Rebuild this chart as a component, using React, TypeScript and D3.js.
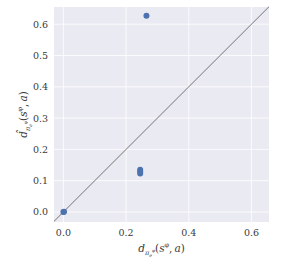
import React from "react";
import * as d3 from "d3";

const xValues = [0.0, 0.002, 0.245, 0.245, 0.245, 0.265];
const yValues = [0.0, 0.001, 0.135, 0.129, 0.123, 0.627];
const tickValues = [0.0, 0.2, 0.4, 0.6];
const yTickValues = [0.0, 0.1, 0.2, 0.3, 0.4, 0.5, 0.6];

const W = 297, H = 264;
const left = 54, right = 269, top = 7, bottom = 222;

function MathLabel({ hat }: { hat: boolean }) {
  return (
    <>
      <tspan>{hat ? "d\u0302" : "d"}</tspan>
      <tspan fontSize={6.5} dy={3}>π</tspan>
      <tspan fontSize={4.5} dy={2}>e</tspan>
      <tspan fontSize={4.5} dy={-5}>φ</tspan>
      <tspan fontSize={10.5} dy={0} fontStyle="normal">(</tspan>
      <tspan>s</tspan>
      <tspan fontSize={6.5} dy={-5} fontStyle="normal">φ</tspan>
      <tspan fontSize={10.5} dy={5} fontStyle="normal">,</tspan>
      <tspan dx={2}>a</tspan>
      <tspan fontStyle="normal">)</tspan>
    </>
  );
}

export default function App() {
  const x = d3.scaleLinear().domain([-0.03, 0.656]).range([left, right]);
  const y = d3.scaleLinear().domain([-0.032, 0.655]).range([bottom, top]);
  const font = "'DejaVu Serif'";
  const dom = x.domain();
  return (
    <svg width={W} height={H} style={{ position: "absolute", left: 0, top: 0, background: "#fff" }}>
      <rect x={left} y={top} width={right - left} height={bottom - top} fill="#eaeaf2" />
      {tickValues.map((t) => (
        <line key={"gx" + t} x1={x(t)} x2={x(t)} y1={top} y2={bottom} stroke="#fff" strokeWidth={0.8} />
      ))}
      {yTickValues.map((t) => (
        <line key={"gy" + t} x1={left} x2={right} y1={y(t)} y2={y(t)} stroke="#fff" strokeWidth={0.8} />
      ))}
      <line x1={x(dom[0])} y1={y(dom[0])} x2={x(dom[1])} y2={y(dom[1])} stroke="#555" strokeWidth={0.8} />
      <g>
        {xValues.map((v, i) => (
          <circle key={i} cx={x(v)} cy={y(yValues[i])} r={3} fill="#4c72b0" />
        ))}
      </g>
      <g style={{ fontFamily: font }} fontSize={9.5} fill="#3a3a3a">
        {tickValues.map((t) => (
          <text key={"tx" + t} x={x(t)} y={bottom + 14} textAnchor="middle">{d3.format(".1f")(t)}</text>
        ))}
        {yTickValues.map((t) => (
          <text key={"ty" + t} x={left - 6} y={y(t) + 3.5} textAnchor="end">{d3.format(".1f")(t)}</text>
        ))}
      </g>
      <g style={{ fontFamily: font }} fill="#3a3a3a" fontStyle="italic" fontSize={10.5}>
        <text x={(left + right) / 2} y={252} textAnchor="middle">
          <MathLabel hat={false} />
        </text>
        <text transform={`translate(27, ${(top + bottom) / 2}) rotate(-90)`} textAnchor="middle">
          <MathLabel hat={true} />
        </text>
      </g>
    </svg>
  );
}
